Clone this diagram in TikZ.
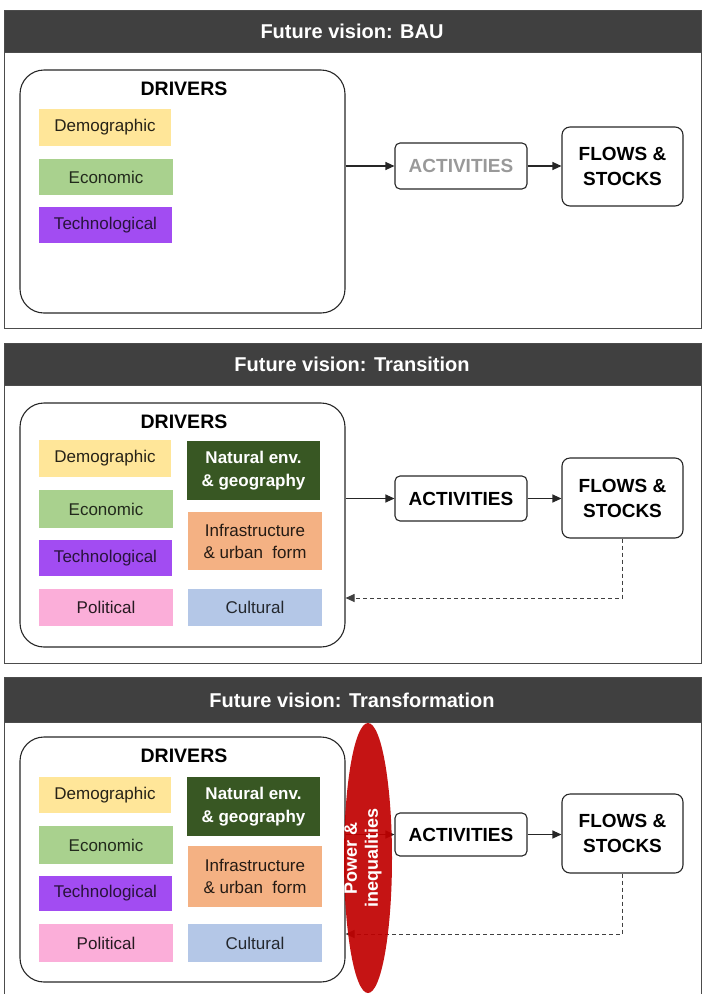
\documentclass[tikz,border=0pt]{standalone}
\usepackage{fontspec}
\setmainfont{Liberation Sans}
\usetikzlibrary{arrows.meta,shapes.geometric}

\definecolor{hdr}{HTML}{404040}
\definecolor{democ}{HTML}{FFE699}
\definecolor{econc}{HTML}{A9D18E}
\definecolor{techc}{HTML}{A24CF2}
\definecolor{polc}{HTML}{FBAED9}
\definecolor{natc}{HTML}{385723}
\definecolor{infc}{HTML}{F4B183}
\definecolor{cultc}{HTML}{B4C7E7}
\definecolor{powc}{HTML}{C00000}

\begin{document}
\begin{tikzpicture}[x=1pt,y=-1pt,
  header/.style={fill=hdr, draw=black!70, line width=0.8pt},
  panel/.style={draw=black!70, line width=0.9pt},
  title/.style={text=white, font=\bfseries\fontsize{20}{24}\selectfont},
  drv/.style={draw=black!85, line width=1.1pt, rounded corners=24pt,
    minimum width=325pt},
  drvlabel/.style={font=\bfseries\fontsize{19.5}{23}\selectfont},
  tile/.style={inner sep=0pt, align=center,
    font=\fontsize{17}{22}\selectfont},
  boldtile/.style={inner sep=0pt, align=center,
    font=\bfseries\fontsize{17}{23}\selectfont},
  actbox/.style={draw=black!85, line width=1.1pt, rounded corners=5pt,
    minimum width=132pt, inner sep=0pt,
    font=\bfseries\fontsize{19}{24}\selectfont},
  flowbox/.style={draw=black!85, line width=1.1pt, rounded corners=8pt,
    minimum width=121pt, minimum height=79pt, inner sep=0pt, align=center,
    font=\bfseries\fontsize{19}{25}\selectfont},
  arr/.style={draw=black!85, line width=1.1pt,
    -{Triangle[length=9pt,width=8pt]}},
  feedback/.style={draw=black!75, line width=1pt, dash pattern=on 4pt off 3pt,
    -{Triangle[length=9pt,width=8pt]}},
]
\useasboundingbox (0,0) rectangle (702,994);
\clip (0,0) rectangle (702,994);

% ---------------- Business as usual ----------------
\draw[panel] (4,52) rectangle (701,328);
\draw[header] (4,10) rectangle (701,52);
\node[title] (t1) at (352,31) {Future vision: BAU};

\node[drv, minimum height=243pt] (drivers1) at (182.5,191.5) {};
\node[drvlabel] (dl1) at (184,89) {DRIVERS};
\node[tile, fill=democ, minimum width=132pt, minimum height=37pt, text=black!85!democ] (demo1) at (105,127.5) {Demographic};
\node[tile, fill=econc, minimum width=134pt, minimum height=36pt, text=black!80!econc] (econ1) at (106,177) {Economic};
\node[tile, fill=techc, minimum width=133pt, minimum height=36pt, text=black!75!techc] (tech1) at (105.5,225) {Technological};

\node[actbox, minimum height=46pt, text=black!40] (act1) at (461,166) {ACTIVITIES};
\node[flowbox] (flows1) at (622.5,166.5) {FLOWS \&\\STOCKS};
\draw[arr] (drivers1.east |- act1.west) -- (act1.west);
\draw[arr] (act1.east) -- (act1.east -| flows1.west);

% ---------------- Transition ----------------
\draw[panel] (4,385) rectangle (701,663);
\draw[header] (4,343) rectangle (701,385);
\node[title] (t2) at (352,364) {Future vision: Transition};

\node[drv, minimum height=244pt] (drivers2) at (182.5,525) {};
\node[drvlabel] (dl2) at (184,422) {DRIVERS};
\node[tile, fill=democ, minimum width=132pt, minimum height=37pt, text=black!85!democ] (demo2) at (105,458.5) {Demographic};
\node[tile, fill=econc, minimum width=134pt, minimum height=38pt, text=black!80!econc] (econ2) at (106,509) {Economic};
\node[tile, fill=techc, minimum width=133pt, minimum height=36pt, text=black!75!techc] (tech2) at (105.5,558) {Technological};
\node[tile, fill=polc, minimum width=134pt, minimum height=37pt, text=black!85!polc] (pol2) at (106,607.5) {Political};
\node[boldtile, fill=natc, minimum width=133pt, minimum height=59pt, text=white] (nat2) at (253.5,470.5) {Natural env.\\\& geography};
\node[tile, fill=infc, minimum width=134pt, minimum height=58pt, text=black!85!infc] (infra2) at (255,541) {Infrastructure\\\& urban\ \ form};
\node[tile, fill=cultc, minimum width=134pt, minimum height=37pt, text=black!80!cultc] (cult2) at (255,607.5) {Cultural};

\node[actbox, minimum height=45pt] (act2) at (461,498.5) {ACTIVITIES};
\node[flowbox, minimum height=80pt] (flows2) at (622.5,498) {FLOWS \&\\STOCKS};
\draw[arr] (drivers2.east |- act2.west) -- (act2.west);
\draw[arr] (act2.east) -- (act2.east -| flows2.west);
\coordinate (fb2) at (622.5,598);
\draw[feedback] (flows2.south) -- (fb2) -- (fb2 -| drivers2.east);

% ---------------- Transformation ----------------
\draw[panel] (4,722) rectangle (701,1010);
\draw[header] (4,677) rectangle (701,722);
\node[title] (t3) at (352,700) {Future vision: Transformation};

\node[drv, minimum height=245pt] (drivers3) at (182.5,859.5) {};
\node[drvlabel] (dl3) at (184,756) {DRIVERS};
\node[tile, fill=democ, minimum width=132pt, minimum height=36pt, text=black!85!democ] (demo3) at (105,795) {Demographic};
\node[tile, fill=econc, minimum width=134pt, minimum height=38pt, text=black!80!econc] (econ3) at (106,845) {Economic};
\node[tile, fill=techc, minimum width=133pt, minimum height=35pt, text=black!75!techc] (tech3) at (105.5,893.5) {Technological};
\node[tile, fill=polc, minimum width=134pt, minimum height=38pt, text=black!85!polc] (pol3) at (106,943) {Political};
\node[boldtile, fill=natc, minimum width=133pt, minimum height=59pt, text=white] (nat3) at (253.5,806.5) {Natural env.\\\& geography};
\node[tile, fill=infc, minimum width=134pt, minimum height=61pt, text=black!85!infc] (infra3) at (255,876.5) {Infrastructure\\\& urban\ \ form};
\node[tile, fill=cultc, minimum width=134pt, minimum height=38pt, text=black!80!cultc] (cult3) at (255,943) {Cultural};

\node[actbox, minimum height=43pt] (act3) at (461,834.5) {ACTIVITIES};
\node[flowbox] (flows3) at (622.5,833.5) {FLOWS \&\\STOCKS};
\draw[arr] (drivers3.east |- act3.west) -- (act3.west);
\draw[arr] (act3.east) -- (act3.east -| flows3.west);
\coordinate (fb3) at (622.5,934);
\draw[feedback] (flows3.south) -- (fb3) -- (fb3 -| drivers3.east);

% power and inequalities lens laid over the driver links
\node[ellipse, fill=powc, fill opacity=0.92, inner sep=0pt,
  minimum width=48pt, minimum height=270pt] (power) at (368,858) {};
\node[rotate=90, text=white, align=center,
  font=\bfseries\fontsize{18}{21}\selectfont] (powtxt) at (363,858) {Power \&\\inequalities};
\end{tikzpicture}
\end{document}
